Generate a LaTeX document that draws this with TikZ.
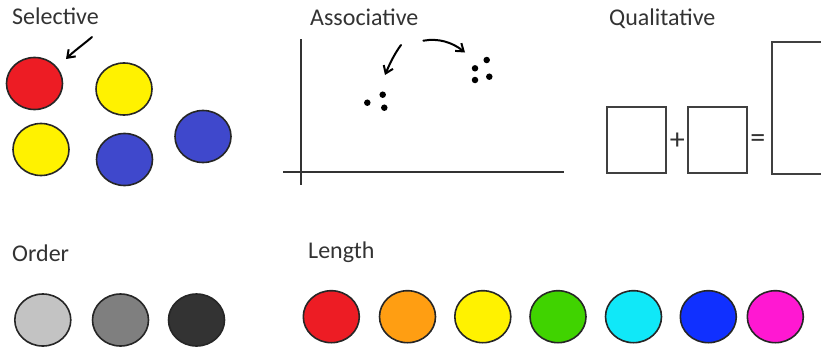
\documentclass[tikz,border=0pt]{standalone}
\usepackage{fontspec}
\setmainfont{Carlito}
\usetikzlibrary{shapes.geometric,arrows.meta}
\definecolor{txt}{HTML}{333333}
\definecolor{cred}{HTML}{ED1C24}
\definecolor{cyel}{HTML}{FFF200}
\definecolor{cblu}{HTML}{3F48CC}
\definecolor{corg}{HTML}{FF9E12}
\definecolor{cgrn}{HTML}{40D300}
\definecolor{ccya}{HTML}{10E8F8}
\definecolor{cdbl}{HTML}{1030FF}
\definecolor{cmag}{HTML}{FF18D2}
\definecolor{g1}{HTML}{C3C3C3}
\definecolor{g2}{HTML}{7F7F7F}
\definecolor{g3}{HTML}{333333}
\begin{document}
\begin{tikzpicture}[x=1pt,y=-1pt,
  title/.style={anchor=base west,inner sep=0pt,text=txt,font=\fontsize{24}{28}\selectfont},
  blob/.style={ellipse,draw=black!85,line width=1.6pt,inner sep=0pt,minimum width=56pt,minimum height=52pt,fill=#1},
  handarrow/.style={line width=2pt,line cap=round,-{Straight Barb[length=7pt,width=10pt,line width=2pt]}},
  frame/.style={draw=black!75,line width=2pt,fill=white},
  dot/.style={circle,fill=black,inner sep=0pt,minimum size=6.5pt},
  sym/.style={inner sep=0pt,text=black!80,font=\fontsize{30}{32}\selectfont}]
\clip (0,0) rectangle (821,348);
\fill[white] (0,0) rectangle (821,348);

% Selective
\node[title] (tsel) at (12,24) {Selective};
\node[blob=cred] (s1) at (34.5,83.5) {};
\node[blob=cyel] (s2) at (124,89) {};
\node[blob=cyel] (s3) at (41,149.5) {};
\node[blob=cblu] (s4) at (124.5,159.5) {};
\node[blob=cblu] (s5) at (203,136.5) {};
\coordinate (sa) at (92,37);
\coordinate (sb) at (66,59);
\draw[handarrow] (sa) .. controls (84,44) and (74,51) .. (sb);

% Associative
\node[title] (tass) at (310,25) {Associative};
\coordinate (ytop) at (300.7,39);
\coordinate (ybot) at (300.7,185);
\coordinate (xl) at (283,171.7);
\coordinate (xr) at (564,171.7);
\draw[black!80,line width=2pt] (ytop) -- (ybot);
\draw[black!80,line width=2pt] (xl) -- (xr);
\node[dot] (d1) at (367.3,102.7) {};
\node[dot] (d2) at (382.7,94.7) {};
\node[dot] (d3) at (384.3,107.7) {};
\node[dot] (d4) at (475,68.3) {};
\node[dot] (d5) at (486.7,60) {};
\node[dot] (d6) at (475,80) {};
\node[dot] (d7) at (489.3,76.7) {};
\coordinate (la) at (401,45);
\coordinate (lb) at (385,75);
\draw[handarrow] (la) .. controls (395,53) and (390,63) .. (lb);
\coordinate (ra) at (423.3,40.7);
\coordinate (rb) at (465,52.5);
\draw[handarrow] (ra) .. controls (438,38) and (452,42) .. (rb);

% Qualitative
\node[title] (tqual) at (609,25) {Qualitative};
\node[frame,minimum width=58.4pt,minimum height=66.6pt,inner sep=0pt] (q1) at (636.5,140) {};
\node[frame,minimum width=58.4pt,minimum height=66.6pt,inner sep=0pt] (q2) at (717.5,140) {};
\node[frame,anchor=north west,minimum width=90pt,minimum height=132.3pt,inner sep=0pt] (q3) at (771,41) {};
\node[sym] (plus) at (677.3,141) {+};
\node[sym] (eq) at (757.8,141) {=};

% Order
\node[title] (tord) at (12,261.5) {Order};
\node[blob=g1] (o1) at (42.8,320) {};
\node[blob=g2] (o2) at (120.5,320) {};
\node[blob=g3] (o3) at (196.5,320) {};

% Length
\node[title] (tlen) at (308,258.5) {Length};
\node[blob=cred] (l1) at (331.3,316.7) {};
\node[blob=corg] (l2) at (407.5,316.7) {};
\node[blob=cyel] (l3) at (482.8,316.7) {};
\node[blob=cgrn] (l4) at (558,316.7) {};
\node[blob=ccya] (l5) at (633.5,316.7) {};
\node[blob=cdbl] (l6) at (708.3,316.7) {};
\node[blob=cmag] (l7) at (775.3,316.7) {};
\end{tikzpicture}
\end{document}
